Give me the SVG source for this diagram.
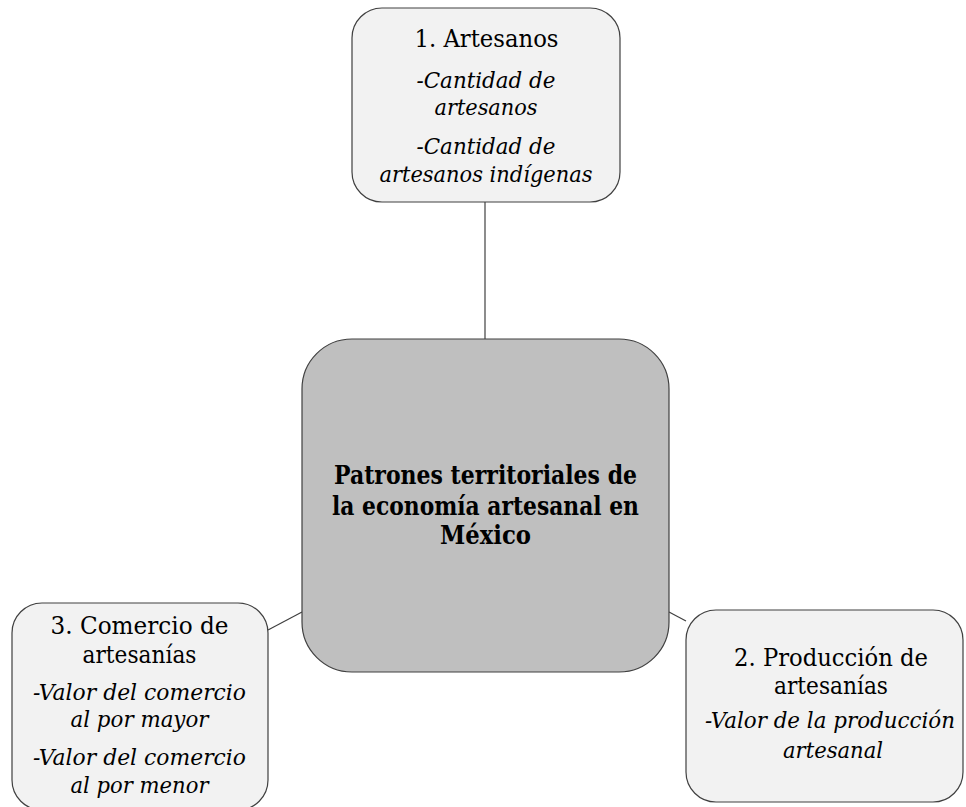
<svg xmlns="http://www.w3.org/2000/svg" width="966" height="807" viewBox="0 0 966 807">
<style>
.box{fill:#f2f2f2;stroke:#404040;stroke-width:1.2}
.core{fill:#bfbfbf;stroke:#404040;stroke-width:1.2}
.conn{stroke:#404040;stroke-width:1.2;fill:none}
.t{font-family:'DejaVu Serif','Liberation Serif','Times New Roman',serif;fill:#000;text-anchor:middle}
.h{font-size:25px}
.i{font-style:italic;font-size:23px}
.b{font-weight:bold;font-size:25.5px}
</style>
<rect width="966" height="807" fill="#fff"/>
<g id="connectors">
<line class="conn" x1="485" y1="202" x2="485" y2="339"/>
<line class="conn" x1="268" y1="630" x2="302" y2="612"/>
<line class="conn" x1="669" y1="612" x2="686" y2="621"/>
</g>
<g id="node-center">
<rect class="core" x="302" y="339" width="367" height="333" rx="50" ry="50"/>
<text class="t b" x="485.5" y="484" textLength="303" lengthAdjust="spacingAndGlyphs">Patrones territoriales de</text>
<text class="t b" x="485.5" y="514.5" textLength="307" lengthAdjust="spacingAndGlyphs">la economía artesanal en</text>
<text class="t b" x="485.5" y="544" textLength="91" lengthAdjust="spacingAndGlyphs">México</text>
</g>
<g id="node-1">
<rect class="box" x="352" y="8" width="268" height="194" rx="30" ry="30"/>
<text class="t h" x="486.5" y="47" textLength="144" lengthAdjust="spacingAndGlyphs">1. Artesanos</text>
<text class="t i" x="486" y="88" textLength="139" lengthAdjust="spacingAndGlyphs">-Cantidad de</text>
<text class="t i" x="486" y="115" textLength="103" lengthAdjust="spacingAndGlyphs">artesanos</text>
<text class="t i" x="486" y="154" textLength="139" lengthAdjust="spacingAndGlyphs">-Cantidad de</text>
<text class="t i" x="486" y="182" textLength="213" lengthAdjust="spacingAndGlyphs">artesanos indígenas</text>
</g>
<g id="node-3">
<rect class="box" x="12" y="603" width="256" height="207" rx="30" ry="30"/>
<text class="t h" x="139.5" y="634" textLength="178" lengthAdjust="spacingAndGlyphs">3. Comercio de</text>
<text class="t h" x="139.5" y="663" textLength="114" lengthAdjust="spacingAndGlyphs">artesanías</text>
<text class="t i" x="139.5" y="700" textLength="213" lengthAdjust="spacingAndGlyphs">-Valor del comercio</text>
<text class="t i" x="139.5" y="727" textLength="138" lengthAdjust="spacingAndGlyphs">al por mayor</text>
<text class="t i" x="139.5" y="765" textLength="213" lengthAdjust="spacingAndGlyphs">-Valor del comercio</text>
<text class="t i" x="139.5" y="793" textLength="138" lengthAdjust="spacingAndGlyphs">al por menor</text>
</g>
<g id="node-2">
<rect class="box" x="686" y="610" width="277" height="192" rx="30" ry="30"/>
<text class="t h" x="831" y="666" textLength="194" lengthAdjust="spacingAndGlyphs">2. Producción de</text>
<text class="t h" x="831" y="694" textLength="114" lengthAdjust="spacingAndGlyphs">artesanías</text>
<text class="t i" x="830" y="728" textLength="250" lengthAdjust="spacingAndGlyphs">-Valor de la producción</text>
<text class="t i" x="833" y="758" textLength="100" lengthAdjust="spacingAndGlyphs">artesanal</text>
</g>
</svg>
